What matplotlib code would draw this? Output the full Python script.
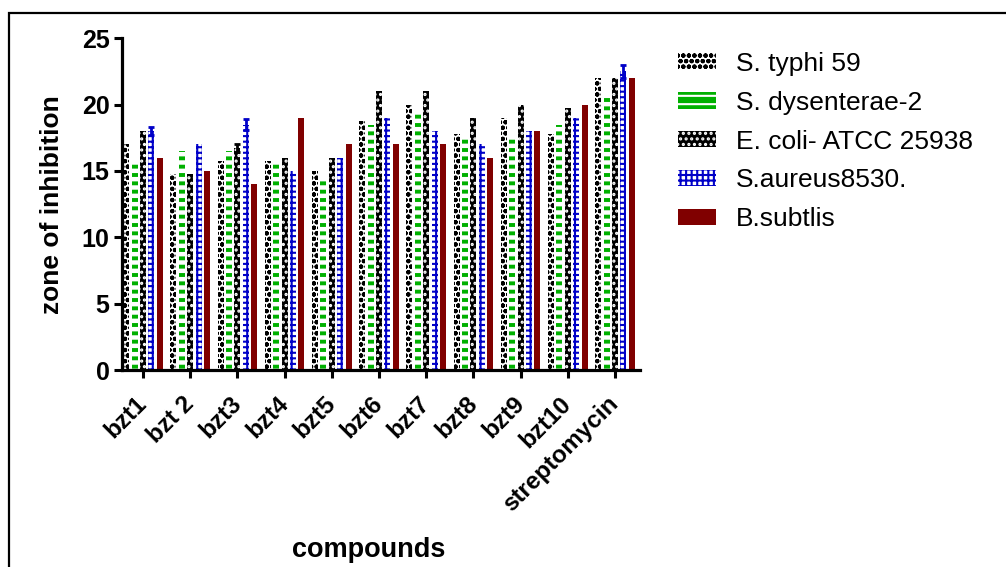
import numpy as np
import matplotlib.pyplot as plt
import matplotlib.transforms as mtransforms
from matplotlib.patches import Rectangle

plt.rcParams['font.family'] = ['Liberation Sans', 'DejaVu Sans']
plt.rcParams['hatch.linewidth'] = 1.5

# data
compounds = ['bzt1', 'bzt 2', 'bzt3', 'bzt4', 'bzt5', 'bzt6', 'bzt7', 'bzt8',
             'bzt9', 'bzt10', 'streptomycin']
strains = ['S. typhi 59', 'S. dysenterae-2', 'E. coli- ATCC 25938',
           'S.aureus8530.', 'B.subtlis']

s_typhi = [17, 14.75, 15.75, 15.75, 15, 18.75, 20, 17.75, 19, 17.75, 22]
s_dysenterae = [15.5, 16.5, 16.5, 15.5, 14.5, 18.5, 19.5, 17.5, 17.5, 18.5, 20.5]
e_coli = [18, 14.75, 16.75, 16, 16, 21, 21, 19, 20, 19.75, 22]
s_aureus = [18, 17, 18.5, 15, 16, 19, 18, 17, 18, 19, 22.5]
b_subtilis = [16, 15, 14, 19, 17, 17, 17, 16, 18, 20, 22]

# small error bars visible on a few bars only
e_coli_err = [np.nan, np.nan, 0.3, np.nan, np.nan, np.nan, np.nan, np.nan, np.nan, np.nan, np.nan]
s_aureus_err = [0.3, np.nan, 0.4, np.nan, np.nan, np.nan, np.nan, np.nan, np.nan, np.nan, 0.5]

# bar styles: (face, hatch colour, hatch, hatch linewidth)
styles = [
    ('white', 'black', 'ooo', 1.5),
    ('#00b000', 'white', '--', 3.2),
    ('black', 'white', '...', 1.5),
    ('white', '#0000c8', '+++', 1.5),
    ('#800000', '#800000', None, 1.5),
]

series = [s_typhi, s_dysenterae, e_coli, s_aureus, b_subtilis]
errors = [None, None, e_coli_err, s_aureus_err, None]

fig = plt.figure(figsize=(10.06, 5.67), dpi=100)
ax = fig.add_axes([0.1213, 0.3474, 0.5149, 0.5851])

x = np.arange(len(compounds))
step = 0.178
width = 0.13
handles = []
for i, (vals, (face, edge, hatch, hlw)) in enumerate(zip(series, styles)):
    pos = x + (i - 2) * step
    with plt.rc_context({'hatch.linewidth': hlw}):
        bars = ax.bar(pos, vals, width, color=face, edgecolor=edge, hatch=hatch,
                      linewidth=0, label=strains[i])
    for b in bars:
        if hasattr(b, 'set_hatch_linewidth'):
            b.set_hatch_linewidth(hlw)
    handles.append(bars)
    if errors[i] is not None:
        ecol = 'black' if i == 2 else '#0000c8'
        ax.errorbar(pos, vals, yerr=errors[i], fmt='none', ecolor=ecol,
                    elinewidth=2, capsize=2.5, capthick=2)

ax.set_xlim(-0.445, 10.53)
ax.set_ylim(0, 25)
ax.set_yticks([0, 5, 10, 15, 20, 25])
ax.set_xticks(x)

for side in ['top', 'right']:
    ax.spines[side].set_visible(False)
for side in ['left', 'bottom']:
    ax.spines[side].set_linewidth(2.3)
ax.tick_params(axis='both', direction='out', length=6, width=2.2, pad=3)
ax.tick_params(axis='x', pad=10)

ax.set_xticklabels(compounds, rotation=45, ha='right', rotation_mode='anchor',
                   fontsize=17.5, fontweight='bold')
# nudge the slanted labels a little to the left, like the original
shift = mtransforms.ScaledTranslation(-8 / 100, 0, fig.dpi_scale_trans)
for lab in ax.get_xticklabels():
    lab.set_transform(lab.get_transform() + shift)
for lab in ax.get_yticklabels():
    lab.set_fontsize(18)
    lab.set_fontweight('bold')

ax.set_ylabel('zone of inhibition', fontsize=19, fontweight='bold')
ax.yaxis.set_label_coords(-0.112, 0.5)
ax.set_xlabel('compounds', fontsize=19.5, fontweight='bold')
ax.xaxis.set_label_coords(0.477, -0.502)

leg = ax.legend(handles, strains, loc='upper left', bbox_to_anchor=(678 / 1006, 1 - 52 / 567),
                bbox_transform=fig.transFigure, frameon=False, borderpad=0, borderaxespad=0,
                fontsize=19, handlelength=1.45, handleheight=0.58, handletextpad=0.75,
                labelspacing=0.56)
for h in leg.legend_handles:
    h.set_linewidth(0)

# outer frame of the original picture (only top and left edges show)
fig.add_artist(Rectangle((9 / 1006, -0.1), 1.2, (567 - 13) / 567 + 0.1,
                         transform=fig.transFigure, fill=False, linewidth=1.6,
                         edgecolor='black'))

fig.savefig('out.png', dpi=100)
